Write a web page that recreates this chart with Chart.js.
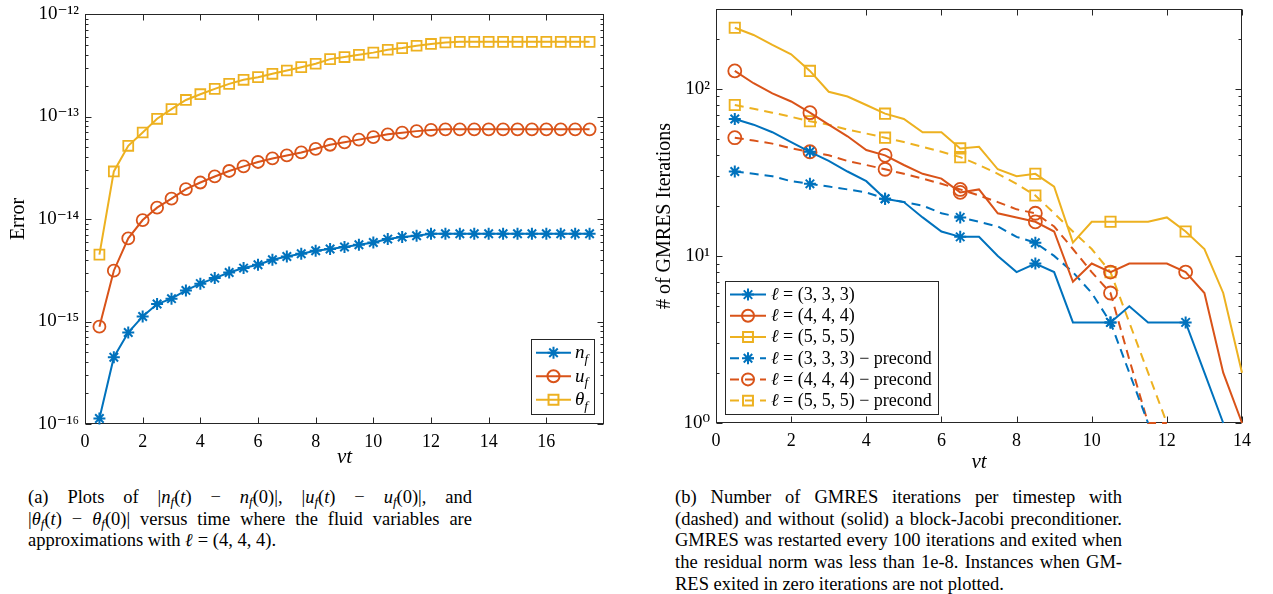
<!DOCTYPE html>
<html><head><meta charset="utf-8">
<script src="https://cdn.jsdelivr.net/npm/chart.js@4.4.1/dist/chart.umd.min.js"></script>
<style>
html,body{margin:0;padding:0;background:#fff;}
body{width:1273px;height:594px;position:relative;overflow:hidden;font-family:'Liberation Serif','DejaVu Serif',serif;color:#000;}
#wa{position:absolute;left:0;top:0;width:640px;height:470px;}
#wb{position:absolute;left:640px;top:0;width:633px;height:475px;}
.cap{position:absolute;font-size:18.5px;line-height:21.7px;}
.cap .l{text-align:justify;text-align-last:justify;}
.cap .e{text-align:left;}
.cap sub{font-size:70%;vertical-align:-0.25em;line-height:0;}
</style></head>
<body>
<div id="wa"><canvas id="ca"></canvas></div>
<div id="wb"><canvas id="cb"></canvas></div>
<div class="cap" style="left:28px;top:487px;width:444px;">
<div class="l">(a) Plots of |<i>n<sub>f</sub></i>(<i>t</i>) − <i>n<sub>f</sub></i>(0)|, |<i>u<sub>f</sub></i>(<i>t</i>) − <i>u<sub>f</sub></i>(0)|, and</div>
<div class="l">|<i>θ<sub>f</sub></i>(<i>t</i>) − <i>θ<sub>f</sub></i>(0)| versus time where the fluid variables are</div>
<div class="e">approximations with <b><i>ℓ</i></b> = (4, 4, 4).</div>
</div>
<div class="cap" style="left:675px;top:487px;width:447px;">
<div class="l">(b) Number of GMRES iterations per timestep with</div>
<div class="l">(dashed) and without (solid) a block-Jacobi preconditioner.</div>
<div class="l">GMRES was restarted every 100 iterations and exited when</div>
<div class="l">the residual norm was less than 1e-8. Instances when GM-</div>
<div class="e">RES exited in zero iterations are not plotted.</div>
</div>
<script>
// ---------- data: panel (a) ----------
const xA = [0.5,1,1.5,2,2.5,3,3.5,4,4.5,5,5.5,6,6.5,7,7.5,8,8.5,9,9.5,10,10.5,11,11.5,12,12.5,13,13.5,14,14.5,15,15.5,16,16.5,17,17.5];
const nF = [1.13e-16,4.48e-16,7.8e-16,1.12e-15,1.48e-15,1.67e-15,2.01e-15,2.34e-15,2.65e-15,3.01e-15,3.32e-15,3.58e-15,4.0e-15,4.31e-15,4.58e-15,4.9e-15,5.09e-15,5.33e-15,5.61e-15,5.9e-15,6.37e-15,6.67e-15,6.87e-15,7.18e-15,7.18e-15,7.18e-15,7.18e-15,7.18e-15,7.18e-15,7.18e-15,7.18e-15,7.18e-15,7.18e-15,7.18e-15,7.18e-15];
const uF = [8.9e-16,3.13e-15,6.47e-15,9.77e-15,1.29e-14,1.58e-14,1.96e-14,2.27e-14,2.6e-14,2.94e-14,3.26e-14,3.6e-14,3.9e-14,4.17e-14,4.46e-14,4.84e-14,5.3e-14,5.6e-14,5.95e-14,6.3e-14,6.7e-14,6.95e-14,7.2e-14,7.4e-14,7.5e-14,7.5e-14,7.5e-14,7.5e-14,7.5e-14,7.5e-14,7.5e-14,7.5e-14,7.5e-14,7.5e-14,7.5e-14];
const thF = [4.49e-15,2.91e-14,5.18e-14,6.98e-14,9.5e-14,1.18e-13,1.45e-13,1.65e-13,1.86e-13,2.08e-13,2.28e-13,2.42e-13,2.61e-13,2.81e-13,3.03e-13,3.27e-13,3.63e-13,3.8e-13,4.0e-13,4.2e-13,4.48e-13,4.65e-13,4.9e-13,5.1e-13,5.27e-13,5.35e-13,5.35e-13,5.35e-13,5.35e-13,5.35e-13,5.35e-13,5.35e-13,5.35e-13,5.35e-13,5.35e-13];
const xTicksA = [0,2,4,6,8,10,12,14,16];
const yRangeA = [1e-16, 1e-12];
const labelsA = ['n_f','u_f','θ_f'];
const richA = [[{t:'n',it:1},{t:'f',it:1,sub:1}],[{t:'u',it:1},{t:'f',it:1,sub:1}],[{t:'θ',it:1},{t:'f',it:1,sub:1}]];

// ---------- data: panel (b) ----------
const xB = [0.5,1,1.5,2,2.5,3,3.5,4,4.5,5,5.5,6,6.5,7,7.5,8,8.5,9,9.5,10,10.5,11,11.5,12,12.5,13,13.5,14];
const it333 = [66,61,55,48,42,37,32,28,22,21,17,14,13,13,10,8,9,8,4,4,4,5,4,4,4,2,1,null];
const it444 = [128,108,94,84,72,61,52,43,40,35,31,29,24,25,18,17,16,14,7,9,8,9,9,9,8,6,2,1];
const it555 = [232,210,183,161,128,96,90,80,71,66,55,55,44,45,33,30,31,26,12,16,16,16,16,17,14,11,6,2];
const it333p = [32,31,30,28,27,26,25,24,22,21,20,18,17,16,15,13,12,10,8,6,4,2,1,null,null,null,null,null];
const it444p = [51,49,47,44,42,40,37,35,33,31,29,27,25,23,21,19,18,15,11,8,6,2.4,1,1,null,null,null,null];
const it555p = [80,76,72,68,64,61,57,54,51,48,45,42,39,35,31,27,23,18,14,11,8,4,2,1,null,null,null,null];
const xTicksB = [0,2,4,6,8,10,12,14];
const yRangeB = [1, 300];
const labelsB = ['ℓ = (3, 3, 3)','ℓ = (4, 4, 4)','ℓ = (5, 5, 5)','ℓ = (3, 3, 3) − precond','ℓ = (4, 4, 4) − precond','ℓ = (5, 5, 5) − precond'];
const richB = [
 [{t:'ℓ',it:1},{t:' = (3, 3, 3)'}],
 [{t:'ℓ',it:1},{t:' = (4, 4, 4)'}],
 [{t:'ℓ',it:1},{t:' = (5, 5, 5)'}],
 [{t:'ℓ',it:1},{t:' = (3, 3, 3) − precond'}],
 [{t:'ℓ',it:1},{t:' = (4, 4, 4) − precond'}],
 [{t:'ℓ',it:1},{t:' = (5, 5, 5) − precond'}]
];

// ---------- styling ----------
const BLUE='#0072BD', ORANGE='#D95319', YELLOW='#EDB120', AX='#262626';
const SERIF="'Liberation Serif','DejaVu Serif',serif";
const SUP={'-':'⁻','0':'⁰','1':'¹','2':'²','3':'³','4':'⁴','5':'⁵','6':'⁶','7':'⁷','8':'⁸','9':'⁹'};
function powLabel(v){const e=Math.log10(v);const r=Math.round(e);if(Math.abs(e-r)>1e-6)return '';return '10'+String(r).split('').map(c=>SUP[c]).join('');}
function logTicks(min,max){const out=[];for(let e=Math.floor(Math.log10(min));e<=Math.ceil(Math.log10(max));e++){for(let m=1;m<10;m++){const v=parseFloat((m*Math.pow(10,e)).toPrecision(6));if(v>=min*0.99999&&v<=max*1.00001)out.push({value:v});}}return out;}
function pairs(xs,ys){return xs.map((x,i)=>({x:x,y:ys[i]}));}

function runFont(r,size){const s=r.sub?size*0.7:size;return (r.it?'italic ':'')+s+'px '+SERIF;}
function measureRuns(ctx,runs,size){let w=0;for(const r of runs){ctx.font=runFont(r,size);w+=ctx.measureText(r.t).width;}return w;}
function drawRuns(ctx,runs,x,y,size){ctx.textBaseline='alphabetic';ctx.textAlign='left';ctx.fillStyle='#000';for(const r of runs){ctx.font=runFont(r,size);ctx.fillText(r.t,x,y+(r.sub?size*0.22:0));x+=ctx.measureText(r.t).width;}}

const mbox={id:'mbox',beforeDatasetsDraw(chart){
  const ctx=chart.ctx,ca=chart.chartArea;
  const L=Math.round(ca.left)+0.5,R=Math.round(ca.right)-0.5,T=Math.round(ca.top)+0.5,B=Math.round(ca.bottom)-0.5;
  ctx.save();ctx.strokeStyle=AX;ctx.lineWidth=1;
  ctx.strokeRect(L,T,R-L,B-T);
  ctx.beginPath();
  const sy=chart.scales.y,sx=chart.scales.x;
  sy.ticks.forEach(t=>{const p=Math.round(sy.getPixelForValue(t.value))+0.5;const len=powLabel(t.value)?6:3;ctx.moveTo(L,p);ctx.lineTo(L+len,p);ctx.moveTo(R,p);ctx.lineTo(R-len,p);});
  sx.ticks.forEach(t=>{const p=Math.round(sx.getPixelForValue(t.value))+0.5;ctx.moveTo(p,B);ctx.lineTo(p,B-6);ctx.moveTo(p,T);ctx.lineTo(p,T+6);});
  ctx.stroke();ctx.restore();
}};

const mlegend={id:'mlegend',afterDraw(chart){
  const o=chart.options.plugins.mlegend;if(!o)return;
  const ctx=chart.ctx,ca=chart.chartArea,ds=chart.data.datasets;
  ctx.save();
  let maxW=0;ds.forEach(d=>{maxW=Math.max(maxW,measureRuns(ctx,d.rich,o.fontSize));});
  const w=Math.round(o.padL+o.lineLen+o.gap+maxW+o.padR);
  const h=Math.round(o.rowH*ds.length+o.padV*2);
  const x0=Math.round(o.corner==='br'?ca.right-o.margin-w:ca.left+o.margin);
  const y0=Math.round(ca.bottom-o.margin-h);
  ctx.fillStyle='#fff';ctx.fillRect(x0,y0,w,h);
  ctx.strokeStyle=AX;ctx.lineWidth=1;ctx.strokeRect(x0+0.5,y0+0.5,w,h);
  ds.forEach((d,i)=>{
    const cy=y0+o.padV+o.rowH*(i+0.5);
    const lx=x0+o.padL;
    ctx.save();ctx.strokeStyle=d.borderColor;ctx.lineWidth=d.borderWidth;ctx.setLineDash(d.borderDash||[]);
    ctx.beginPath();ctx.moveTo(lx,cy);ctx.lineTo(lx+o.lineLen,cy);ctx.stroke();ctx.setLineDash([]);
    ctx.strokeStyle=d.borderColor;ctx.fillStyle='rgba(0,0,0,0)';
    Chart.helpers.drawPoint(ctx,{pointStyle:d.pointStyle,radius:o.markR[d.pointStyle],borderWidth:d.pointBorderWidth,rotation:0},lx+o.lineLen/2,cy);
    ctx.restore();
    drawRuns(ctx,d.rich,lx+o.lineLen+o.gap,cy+o.fontSize*0.3,o.fontSize);
  });
  ctx.restore();
}};

Chart.register(mbox,mlegend);

function ds(label,rich,xs,ys,color,style,dash,radius){
  return {label:label,rich:rich,data:pairs(xs,ys),borderColor:color,backgroundColor:'rgba(0,0,0,0)',borderWidth:2,borderDash:dash,
    pointStyle:style,pointRadius:radius,pointBorderColor:color,pointBackgroundColor:'rgba(0,0,0,0)',pointBorderWidth:style==='star'?2:1.8,
    tension:0,spanGaps:false,clip:false};
}
const RA={star:6,circle:6,rect:7};
const RB={star:6,circle:6.5,rect:7.3};
const RL={star:6,circle:6,rect:7};

const tickFont={family:SERIF,size:19};
const titleFont={family:SERIF,size:20};

new Chart(document.getElementById('ca'),{
  type:'line',
  data:{datasets:[
    ds(labelsA[0],richA[0],xA,nF,BLUE,'star',[],RA.star),
    ds(labelsA[1],richA[1],xA,uF,ORANGE,'circle',[],RA.circle),
    ds(labelsA[2],richA[2],xA,thF,YELLOW,'rect',[],RA.rect)
  ]},
  options:{responsive:true,maintainAspectRatio:false,animation:false,events:[],
    layout:{padding:{left:0,right:36,top:14,bottom:0}},
    plugins:{legend:{display:false},tooltip:{enabled:false},
      mlegend:{corner:'br',margin:10,padL:5,lineLen:35,gap:4,padR:6,padV:2,rowH:23.5,fontSize:19,markR:RL}},
    scales:{
      x:{type:'linear',min:0,max:18,grid:{display:false,drawTicks:false},border:{display:false},
        afterBuildTicks(s){s.ticks=xTicksA.map(v=>({value:v}));},
        afterFit(s){s.height=46;s.paddingLeft=0;s.paddingRight=0;},
        ticks:{autoSkip:false,maxRotation:0,padding:7,color:'#000',font:{family:SERIF,size:18}},
        title:{display:true,text:'νt',color:'#000',font:{family:SERIF,size:21,style:'italic'},padding:{top:0,bottom:0}}},
      y:{type:'logarithmic',min:yRangeA[0],max:yRangeA[1],grid:{display:false,drawTicks:false},border:{display:false},
        afterBuildTicks(s){s.ticks=logTicks(yRangeA[0],yRangeA[1]);},
        afterFit(s){s.width=85;s.paddingTop=0;s.paddingBottom=0;},
        ticks:{autoSkip:false,padding:6,color:'#000',font:tickFont,callback:v=>powLabel(v)},
        title:{display:true,text:'Error',color:'#000',font:titleFont,padding:{top:7,bottom:0}}}
    }}
});

new Chart(document.getElementById('cb'),{
  type:'line',
  data:{datasets:[
    ds(labelsB[0],richB[0],xB,it333,BLUE,'star',[],c=>c.dataIndex%4===0?RB.star:0),
    ds(labelsB[1],richB[1],xB,it444,ORANGE,'circle',[],c=>c.dataIndex%4===0?RB.circle:0),
    ds(labelsB[2],richB[2],xB,it555,YELLOW,'rect',[],c=>c.dataIndex%4===0?RB.rect:0),
    ds(labelsB[3],richB[3],xB,it333p,BLUE,'star',[9,6],c=>c.dataIndex%4===0?RB.star:0),
    ds(labelsB[4],richB[4],xB,it444p,ORANGE,'circle',[9,6],c=>c.dataIndex%4===0?RB.circle:0),
    ds(labelsB[5],richB[5],xB,it555p,YELLOW,'rect',[9,6],c=>c.dataIndex%4===0?RB.rect:0)
  ]},
  options:{responsive:true,maintainAspectRatio:false,animation:false,events:[],
    layout:{padding:{left:0,right:31,top:7,bottom:0}},
    plugins:{legend:{display:false},tooltip:{enabled:false},
      mlegend:{corner:'bl',margin:9,padL:5,lineLen:36,gap:5,padR:6,padV:3,rowH:21.2,fontSize:18,markR:RL}},
    scales:{
      x:{type:'linear',min:0,max:14,grid:{display:false,drawTicks:false},border:{display:false},
        afterBuildTicks(s){s.ticks=xTicksB.map(v=>({value:v}));},
        afterFit(s){s.height=52;s.paddingLeft=0;s.paddingRight=0;},
        ticks:{autoSkip:false,maxRotation:0,padding:7,color:'#000',font:{family:SERIF,size:18}},
        title:{display:true,text:'νt',color:'#000',font:{family:SERIF,size:21,style:'italic'},padding:{top:0,bottom:0}}},
      y:{type:'logarithmic',min:yRangeB[0],max:yRangeB[1],grid:{display:false,drawTicks:false},border:{display:false},
        afterBuildTicks(s){s.ticks=logTicks(yRangeB[0],yRangeB[1]);},
        afterFit(s){s.width=76;s.paddingTop=0;s.paddingBottom=0;},
        ticks:{autoSkip:false,padding:6,color:'#000',font:tickFont,callback:v=>powLabel(v)},
        title:{display:true,text:'# of GMRES Iterations',color:'#000',font:titleFont,padding:{top:13,bottom:0}}}
    }}
});
</script>
</body></html>
